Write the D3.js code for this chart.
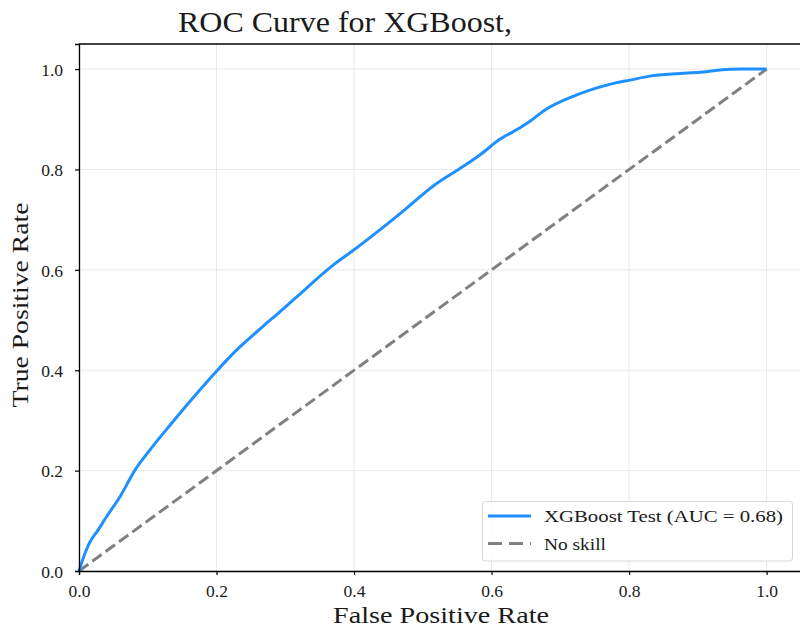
<!DOCTYPE html>
<html><head><meta charset="utf-8">
<script src="https://cdn.jsdelivr.net/npm/d3@7"></script>
<style>body{margin:0;background:#fff;} svg{display:block;}</style>
</head><body>
<svg id="c" width="800" height="629"></svg>
<script>
const fpr = [0,0.006,0.016,0.027,0.040,0.0596,0.0814,0.103,0.132,0.176,0.200,0.229,0.268,0.290,0.314,0.370,0.401,0.467,0.520,0.554,0.583,0.612,0.640,0.658,0.675,0.723,0.752,0.782,0.801,0.830,0.874,0.903,0.932,0.961,1.0];
const tpr = [0,0.025,0.058,0.080,0.108,0.148,0.201,0.241,0.290,0.361,0.398,0.440,0.488,0.514,0.543,0.610,0.641,0.712,0.772,0.802,0.829,0.860,0.882,0.898,0.916,0.948,0.962,0.973,0.978,0.986,0.991,0.9935,0.998,1.0,1.0];
const noSkill = [0,1];
const xTicks = [0,0.2,0.4,0.6,0.8,1.0];
const yTicks = [0,0.2,0.4,0.6,0.8,1.0];
const labels = ["XGBoost Test (AUC = 0.68)","No skill"];

const svg = d3.select("#c");
const font = "'Liberation Serif', 'DejaVu Serif', serif";
const ink = "#1a1a1a";
const x = d3.scaleLinear().domain([0,1.05]).range([79,801]);
const y = d3.scaleLinear().domain([0,1.05]).range([571,44]);

svg.append("g").selectAll("line").data(xTicks).join("line")
  .attr("x1",d=>x(d)).attr("x2",d=>x(d)).attr("y1",y(0)).attr("y2",y(1.05))
  .attr("stroke","#e3e3e3").attr("stroke-width",0.8);
svg.append("g").selectAll("line").data(yTicks).join("line")
  .attr("y1",d=>y(d)).attr("y2",d=>y(d)).attr("x1",x(0)).attr("x2",x(1.05))
  .attr("stroke","#e3e3e3").attr("stroke-width",0.8);

svg.append("line").attr("x1",x(noSkill[0])).attr("y1",y(noSkill[0])).attr("x2",x(noSkill[1])).attr("y2",y(noSkill[1]))
  .attr("stroke","#808080").attr("stroke-width",3).attr("stroke-dasharray","11.5,5");

const pts = fpr.map((f,i)=>[f,tpr[i]]);
svg.append("path").datum(pts)
  .attr("d",d3.line().x(d=>x(d[0])).y(d=>y(d[1])).curve(d3.curveMonotoneX))
  .attr("fill","none").attr("stroke","#1e90ff").attr("stroke-width",3);

const xa = svg.append("g").attr("transform",`translate(0,${y(0)})`)
  .call(d3.axisBottom(x).tickValues(xTicks).tickFormat(d3.format(".1f")).tickSizeOuter(0).tickSize(4));
const ya = svg.append("g").attr("transform",`translate(${x(0)},0)`)
  .call(d3.axisLeft(y).tickValues(yTicks).tickFormat(d3.format(".1f")).tickSizeOuter(0).tickSize(4));
[xa,ya].forEach(a=>{
  a.select(".domain").attr("stroke","#000").attr("stroke-width",1.3);
  a.selectAll(".tick line").attr("stroke","#000").attr("stroke-width",1.2);
  a.selectAll(".tick text").attr("font-family",font).attr("font-size",17.5).attr("fill",ink);
});
xa.selectAll(".tick text").attr("y",26).attr("dy",0);
ya.selectAll(".tick text").attr("x",-16).attr("dy","0.36em");
svg.append("line").attr("x1",x(0)).attr("x2",x(1.05)).attr("y1",y(1.05)).attr("y2",y(1.05))
  .attr("stroke","#000").attr("stroke-width",1.3);

svg.append("text").attr("x",345).attr("y",32).attr("text-anchor","middle")
  .attr("font-family",font).attr("font-size",28.5).attr("fill",ink)
  .attr("textLength",334).attr("lengthAdjust","spacingAndGlyphs").text("ROC Curve for XGBoost,");
svg.append("text").attr("x",441).attr("y",623).attr("text-anchor","middle")
  .attr("font-family",font).attr("font-size",22.5).attr("fill",ink)
  .attr("textLength",216).attr("lengthAdjust","spacingAndGlyphs").text("False Positive Rate");
svg.append("text").attr("transform","translate(28,305) rotate(-90)").attr("text-anchor","middle")
  .attr("font-family",font).attr("font-size",22.5).attr("fill",ink)
  .attr("textLength",205).attr("lengthAdjust","spacingAndGlyphs").text("True Positive Rate");

const lg = svg.append("g");
lg.append("rect").attr("x",482.5).attr("y",501.5).attr("width",310).attr("height",59.5).attr("rx",3)
  .attr("fill","#fff").attr("fill-opacity",0.85).attr("stroke","#d8d8d8").attr("stroke-width",1);
const styles = [{c:"#1e90ff",dash:null},{c:"#808080",dash:"14,7"}];
const tlen = [239, 62];
labels.forEach((t,i)=>{
  const yy = 516 + i*27.5;
  lg.append("line").attr("x1",488).attr("x2",531).attr("y1",yy).attr("y2",yy)
    .attr("stroke",styles[i].c).attr("stroke-width",3).attr("stroke-dasharray",styles[i].dash);
  lg.append("text").attr("x",544).attr("y",yy+6).attr("font-family",font).attr("font-size",17.5)
    .attr("fill",ink).attr("textLength",tlen[i]).attr("lengthAdjust","spacingAndGlyphs").text(t);
});
</script>
</body></html>
